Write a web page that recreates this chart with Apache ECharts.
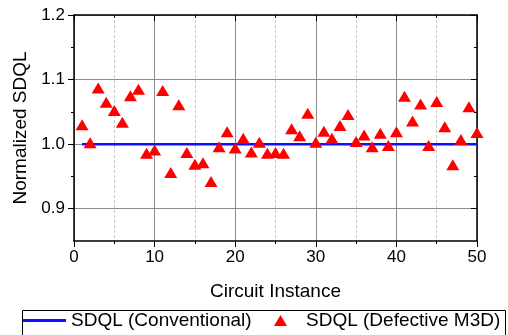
<!DOCTYPE html>
<html>
<head>
<meta charset="utf-8">
<script src="https://cdn.jsdelivr.net/npm/echarts@6/dist/echarts.min.js"></script>
<style>
  html, body { margin: 0; padding: 0; background: #fff; }
  #chart { width: 508px; height: 335px; }
</style>
</head>
<body>
<div id="chart"></div>
<script>
// circuit instances 1..50
const instances = [
  1, 2, 3, 4, 5, 6, 7, 8, 9, 10,
  11, 12, 13, 14, 15, 16, 17, 18, 19, 20,
  21, 22, 23, 24, 25, 26, 27, 28, 29, 30,
  31, 32, 33, 34, 35, 36, 37, 38, 39, 40,
  41, 42, 43, 44, 45, 46, 47, 48, 49, 50
];
// normalized SDQL, conventional (reference = 1)
const conventional = [
  1.0, 1.0, 1.0, 1.0, 1.0, 1.0, 1.0, 1.0, 1.0, 1.0,
  1.0, 1.0, 1.0, 1.0, 1.0, 1.0, 1.0, 1.0, 1.0, 1.0,
  1.0, 1.0, 1.0, 1.0, 1.0, 1.0, 1.0, 1.0, 1.0, 1.0,
  1.0, 1.0, 1.0, 1.0, 1.0, 1.0, 1.0, 1.0, 1.0, 1.0,
  1.0, 1.0, 1.0, 1.0, 1.0, 1.0, 1.0, 1.0, 1.0, 1.0
];
// normalized SDQL, defective M3D
const defective = [
  1.030, 1.002, 1.087, 1.065, 1.052, 1.034, 1.075, 1.085, 0.986, 0.991,
  1.083, 0.956, 1.061, 0.987, 0.969, 0.971, 0.942, 0.996, 1.019, 0.994,
  1.009, 0.988, 1.003, 0.986, 0.987, 0.986, 1.024, 1.013, 1.048, 1.003,
  1.020, 1.009, 1.029, 1.046, 1.004, 1.014, 0.996, 1.017, 0.998, 1.019,
  1.074, 1.036, 1.062, 0.998, 1.066, 1.027, 0.968, 1.007, 1.058, 1.018
];
const yMajor = [0.9, 1.0, 1.1, 1.2];
const yMinor = [0.95, 1.05, 1.15];

const font = "Liberation Sans";
const chart = echarts.init(document.getElementById("chart"), null, { renderer: "canvas" });

const yBase = { type: "value", min: 0.85, max: 1.2, splitLine: { show: false } };
const axisLine = { show: true, lineStyle: { color: "#000", width: 1.5 } };

chart.setOption({
  animation: false,
  textStyle: { fontFamily: font },
  grid: { left: 74, right: 31, top: 15, bottom: 94 },
  xAxis: [
    {
      type: "value", min: 0, max: 50, interval: 10,
      name: "Circuit Instance", nameLocation: "middle", nameGap: 41,
      nameTextStyle: { fontSize: 19, color: "#000", fontFamily: font },
      axisLine: axisLine,
      axisTick: { show: true, length: 6, lineStyle: { color: "#000", width: 1 } },
      minorTick: { show: true, splitNumber: 2, length: 3, lineStyle: { color: "#000", width: 1 } },
      axisLabel: { fontSize: 17, color: "#000", margin: 8, fontFamily: font },
      splitLine: { show: true, lineStyle: { color: "#8c8c8c", width: 1 } },
      minorSplitLine: { show: true, lineStyle: { color: "#c8c8c8", width: 1, type: [3, 2] } }
    },
    {
      type: "value", min: 0, max: 50, interval: 10, position: "top",
      axisLine: axisLine,
      axisTick: { show: true, inside: true, length: 6, lineStyle: { color: "#000", width: 1 } },
      minorTick: { show: true, splitNumber: 2, length: 3, lineStyle: { color: "#000", width: 1 } },
      axisLabel: { show: false },
      splitLine: { show: false }
    }
  ],
  yAxis: [
    Object.assign({}, yBase, {
      name: "Normalized SDQL", nameLocation: "middle", nameGap: 39,
      nameTextStyle: { fontSize: 19, color: "#000", fontFamily: font },
      axisLine: axisLine,
      axisTick: { show: true, length: 6, customValues: yMajor, lineStyle: { color: "#000", width: 1 } },
      axisLabel: {
        fontSize: 17, color: "#000", margin: 9, fontFamily: font, customValues: yMajor,
        formatter: (v) => v.toFixed(1)
      },
      splitLine: { show: true, lineStyle: { color: "#8c8c8c", width: 1 } }
    }),
    Object.assign({}, yBase, {
      position: "left",
      axisLine: { show: false },
      axisTick: { show: true, length: 3, customValues: yMinor, lineStyle: { color: "#000", width: 1 } },
      axisLabel: { show: false }
    }),
    Object.assign({}, yBase, {
      position: "right",
      axisLine: axisLine,
      axisTick: { show: true, inside: true, length: 6, customValues: yMajor, lineStyle: { color: "#000", width: 1 } },
      axisLabel: { show: false }
    }),
    Object.assign({}, yBase, {
      position: "right",
      axisLine: { show: false },
      axisTick: { show: true, inside: true, length: 3, customValues: yMinor, lineStyle: { color: "#000", width: 1 } },
      axisLabel: { show: false }
    })
  ],
  legend: [
    {
      data: [{ name: "SDQL (Conventional)", icon: "rect" }],
      left: 22, top: 311, padding: 0,
      itemWidth: 44, itemHeight: 3,
      textStyle: { fontSize: 19, color: "#000", fontFamily: font }
    },
    {
      data: [{ name: "SDQL (Defective M3D)", icon: "triangle" }],
      left: 274, top: 311, padding: 0,
      itemWidth: 13, itemHeight: 11,
      textStyle: { fontSize: 19, color: "#000", fontFamily: font, padding: [0, 0, 0, 14] }
    }
  ],
  graphic: [
    {
      type: "rect", left: 20, top: 308, z: 100,
      shape: { width: 483, height: 26 },
      style: { fill: "none", stroke: "#000", lineWidth: 1 }
    }
  ],
  series: [
    {
      name: "SDQL (Conventional)",
      type: "line",
      data: instances.map((x, i) => [x, conventional[i]]),
      symbol: "none",
      lineStyle: { color: "#1010ff", width: 2.5 },
      itemStyle: { color: "#1010ff" },
      z: 3
    },
    {
      name: "SDQL (Defective M3D)",
      type: "scatter",
      data: instances.map((x, i) => [x, defective[i]]),
      symbol: "triangle",
      symbolSize: [13, 11],
      itemStyle: { color: "#ff0000", opacity: 1 },
      z: 4
    }
  ]
});
</script>
</body>
</html>
